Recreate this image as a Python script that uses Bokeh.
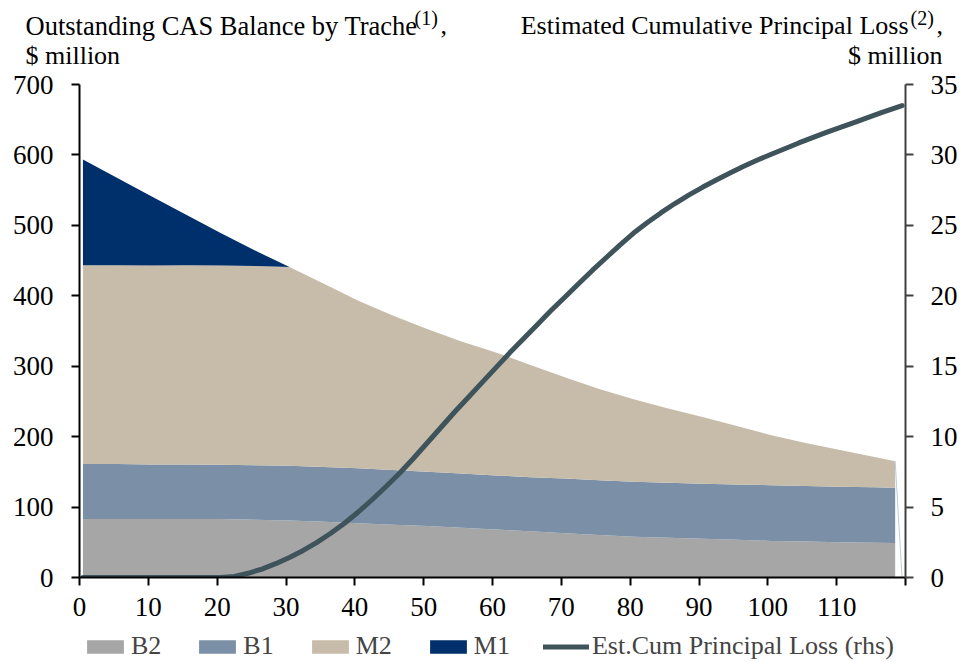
import numpy as np
from bokeh.plotting import figure
from bokeh.layouts import column
from bokeh.models import (Range1d, LinearAxis, FixedTicker, Label, Legend,
                          LegendItem, ColumnDataSource)
from bokeh.embed import file_html
from bokeh.resources import INLINE

# ---------------- data ($ million) ----------------
months = [0, 5, 10, 15, 20, 25, 30, 35, 40, 45, 50, 55, 60, 65, 70, 75, 80,
          85, 90, 95, 100, 105, 110, 115, 118]
b2 = [83, 83, 83, 83, 83, 82, 81, 79, 77, 75, 73, 70.5, 68, 65.5, 63, 60.5,
      58, 56.5, 55, 53.5, 52, 51, 50, 49.5, 49]
b1 = [78, 78, 77.5, 77.5, 77, 77.5, 77.5, 78, 78, 77.5, 77, 77, 77, 77, 77.5,
      77.5, 78, 78, 78, 78.5, 79, 79, 79, 78.5, 78.5]
m2 = [282.4, 282.4, 282.5, 282.7, 283, 282.7, 282.5, 260, 238, 219.5, 203,
      187.5, 174.5, 159.3, 144, 129.8, 117, 105.5, 95, 83, 71, 61, 52, 43, 37.5]
m1 = [150, 124, 98, 72, 46, 22, 0, 0, 0, 0, 0, 0, 0, 0, 0, 0, 0, 0, 0, 0, 0,
      0, 0, 0, 0]
end_month = 119

loss_months = [0, 10, 20, 22, 24, 26, 28, 30, 32, 34, 36, 38, 40, 42, 44, 46,
               48, 50, 52, 54, 56, 58, 60, 62, 64, 66, 68, 70, 72, 74, 76, 78,
               80, 82, 84, 86, 88, 90, 92, 94, 96, 98, 100, 104, 108, 112, 116,
               119]
loss = [0, 0, 0, 0.08, 0.3, 0.6, 0.98, 1.42, 1.92, 2.5, 3.14, 3.85, 4.65, 5.52,
        6.44, 7.4, 8.45, 9.55, 10.65, 11.75, 12.8, 13.85, 14.9, 15.95, 16.95,
        17.95, 18.95, 19.9, 20.85, 21.8, 22.7, 23.6, 24.45, 25.2, 25.9, 26.55,
        27.15, 27.7, 28.22, 28.72, 29.2, 29.64, 30.05, 30.85, 31.6, 32.3, 33.0,
        33.5]

x_ticks = [0, 10, 20, 30, 40, 50, 60, 70, 80, 90, 100, 110, 120]
left_ticks = [0, 100, 200, 300, 400, 500, 600, 700]
right_ticks = [0, 5, 10, 15, 20, 25, 30, 35]

tranches = ["B2", "B1", "M2", "M1"]
loss_label = "Est.Cum Principal Loss (rhs)"
colors = ["#A6A6A6", "#7B90A7", "#C7BBA9", "#00306B"]
line_color = "#3E535A"
FONT = "Liberation Serif"

# ---------------- layout sizes ----------------
W = 960
TOP_H, MAIN_H, LEG_H = 70, 559, 32
FL, FR, FT, FB = 79, 905, 84, 577   # frame edges in page pixels

# ---------------- title strip ----------------
t = figure(width=W, height=TOP_H, output_backend="svg", toolbar_location=None,
           x_range=Range1d(0, W), y_range=Range1d(0, TOP_H), min_border=0,
           x_axis_location=None, y_axis_location=None)
t.outline_line_color = None
t.grid.visible = False
t.frame_align = False

def lab(fig, x, y, text, size="26px", align="left"):
    fig.add_layout(Label(x=x, y=TOP_H - y, text=text, text_font=FONT,
                         text_font_size=size, text_align=align,
                         text_baseline="alphabetic", text_color="black"))

lab(t, 25, 25, "Outstanding CAS Balance by Trache", size="26.5px")
lab(t, 414, 17, "(1)", size="20px")
lab(t, 440, 25, ",")
lab(t, 25, 55, "$ million")
lab(t, 908, 25, "Estimated Cumulative Principal Loss", align="right")
lab(t, 910, 17, "(2)", size="20px")
lab(t, 936, 25, ",")
lab(t, 942, 55, "$ million", align="right")

# ---------------- main chart ----------------
p = figure(width=W, height=MAIN_H, output_backend="svg", toolbar_location=None,
           x_range=Range1d(0, 120), y_range=Range1d(0, 700),
           min_border_left=FL, min_border_right=W - FR,
           min_border_top=FT - TOP_H, min_border_bottom=TOP_H + MAIN_H - FB)
p.frame_align = False
p.extra_y_ranges = {"rhs": Range1d(0, 35)}
p.xgrid.visible = False
p.ygrid.visible = False
p.outline_line_color = None

src = ColumnDataSource(dict(x=np.array(months) + 0.5, B2=b2, B1=b1, M2=m2, M1=m1))
rs = p.varea_stack(tranches, x="x", color=colors, source=src)

total_last = b2[-1] + b1[-1] + m2[-1] + m1[-1]
p.line(x=[months[-1] + 0.5, end_month + 0.5], y=[total_last, 0],
       line_color="#BFCCDA", line_width=1)

p.line(x=np.array(loss_months) + 0.5, y=loss, y_range_name="rhs",
       line_color=line_color, line_width=5, line_cap="round", line_join="round")

def style_axis(ax, line_col="black"):
    ax.axis_line_color = line_col
    ax.axis_line_width = 2
    ax.major_tick_line_color = line_col
    ax.major_tick_line_width = 2
    ax.major_tick_out = 8
    ax.major_tick_in = 0
    ax.minor_tick_line_color = None
    ax.major_label_text_font = FONT
    ax.major_label_text_font_size = "27px"
    ax.major_label_text_color = "black"

p.xaxis.ticker = FixedTicker(ticks=x_ticks)
p.xaxis.major_label_overrides = {120: ""}
style_axis(p.xaxis[0])
p.xaxis.major_label_standoff = 12

p.yaxis.ticker = FixedTicker(ticks=left_ticks)
style_axis(p.yaxis[0])
p.yaxis.major_label_standoff = 18

ax_r = LinearAxis(y_range_name="rhs", ticker=FixedTicker(ticks=right_ticks))
style_axis(ax_r, "#404040")
ax_r.major_label_standoff = 17
p.add_layout(ax_r, "right")

# ---------------- legend strip ----------------
lg = figure(width=W, height=LEG_H, output_backend="svg", toolbar_location=None,
            x_range=Range1d(0, W), y_range=Range1d(0, LEG_H), min_border=0,
            x_axis_location=None, y_axis_location=None)
lg.outline_line_color = None
lg.grid.visible = False
lg.frame_align = False
items = []
for name, c in zip(tranches, colors):
    r = lg.varea(x=[np.nan], y1=[np.nan], y2=[np.nan], color=c)
    items.append(LegendItem(label=name, renderers=[r]))
rl = lg.line(x=[np.nan], y=[np.nan], line_color=line_color, line_width=5,
             line_cap="round")
items.append(LegendItem(label=loss_label, renderers=[rl]))
legend = Legend(items=items, orientation="horizontal", location=(82, 0),
                padding=0, margin=0, spacing=33, glyph_width=46, glyph_height=17,
                label_standoff=3, label_text_font=FONT, label_text_font_size="26px",
                border_line_color=None, background_fill_alpha=0)
lg.add_layout(legend, "center")

layout = column(t, p, lg, spacing=0)
open("out.html", "w").write(file_html(layout, INLINE))
